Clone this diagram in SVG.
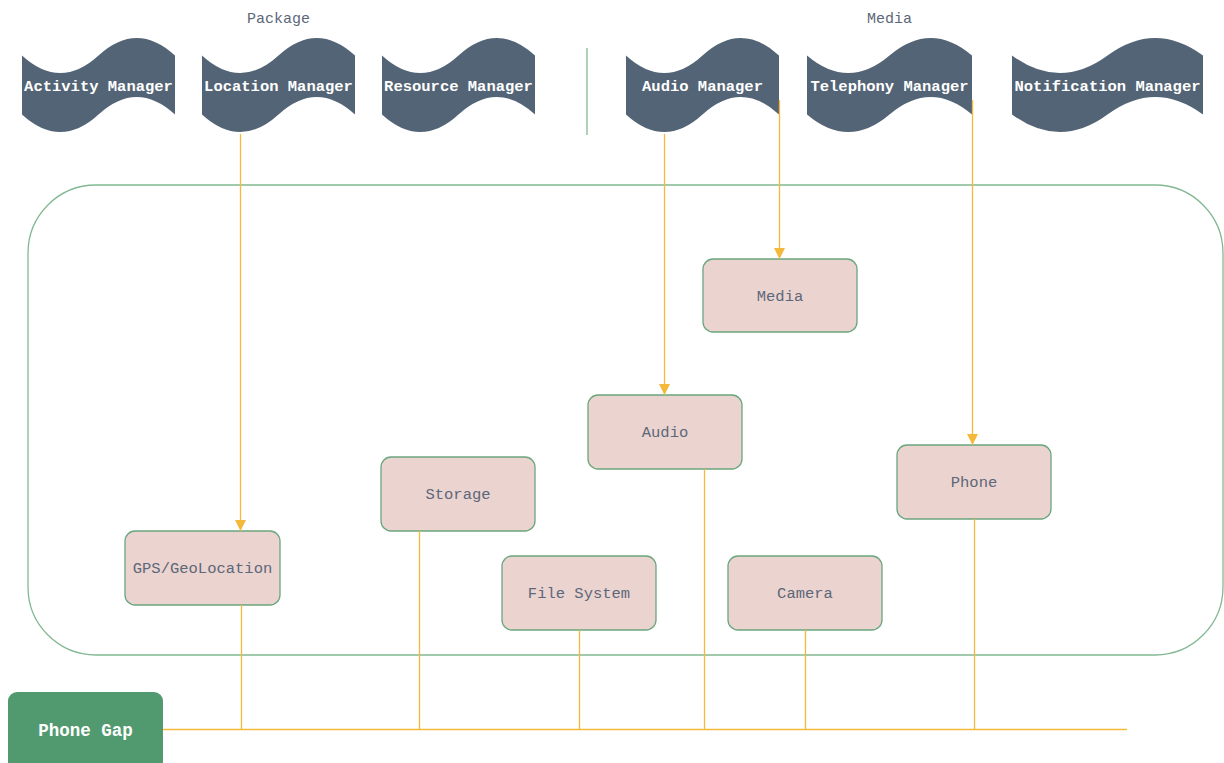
<svg xmlns="http://www.w3.org/2000/svg" width="1224" height="763" viewBox="0 0 1224 763">
  <style>
    .tape { fill: #536476; }
    .tape-label { font-family: "Liberation Mono", "Courier New", monospace; font-size: 15.5px; font-weight: bold; fill: #ffffff; text-anchor: middle; }
    .group-label { font-family: "Liberation Mono", "Courier New", monospace; font-size: 15px; fill: #5c6779; text-anchor: middle; }
    .box { fill: #ebd3cf; stroke: #6aa67e; stroke-width: 1.3; }
    .box-label { font-family: "Liberation Mono", "Courier New", monospace; font-size: 15.5px; fill: #5c6779; text-anchor: middle; }
    .link { fill: none; stroke: #f4b93a; stroke-width: 1.3; }
    .arrow { marker-end: url(#arrowhead); }
  </style>
  <defs>
    <marker id="arrowhead" markerUnits="userSpaceOnUse" markerWidth="12" markerHeight="12" refX="11" refY="6" orient="auto">
      <path d="M0,0.5 L11,6 L0,11.5 Z" fill="#f4b93a"/>
    </marker>
  </defs>

  <rect width="1224" height="763" fill="#ffffff"/>

  <!-- section titles -->
  <text class="group-label" x="278.5" y="23">Package</text>
  <text class="group-label" x="889.5" y="23">Media</text>

  <!-- divider between the two manager sets -->
  <line x1="587" y1="48" x2="587" y2="135" stroke="#82b891" stroke-width="1.3"/>

  <!-- container -->
  <rect id="container" x="28" y="185" width="1195" height="470" rx="68" ry="68" fill="none" stroke="#82b891" stroke-width="1.3"/>

  <!-- managers -->
  <g id="activity-manager">
    <path class="tape" d="M22,55.5 Q60.25,90.6 98.5,55.5 Q136.75,20.4 175,55.5 L175,114.5 Q136.75,79.4 98.5,114.5 Q60.25,149.6 22,114.5 Z"/>
    <text class="tape-label" x="98.5" y="91">Activity Manager</text>
  </g>
  <g id="location-manager">
    <path class="tape" d="M202,55.5 Q240.25,90.6 278.5,55.5 Q316.75,20.4 355,55.5 L355,114.5 Q316.75,79.4 278.5,114.5 Q240.25,149.6 202,114.5 Z"/>
    <text class="tape-label" x="278.5" y="91">Location Manager</text>
  </g>
  <g id="resource-manager">
    <path class="tape" d="M382,55.5 Q420.25,90.6 458.5,55.5 Q496.75,20.4 535,55.5 L535,114.5 Q496.75,79.4 458.5,114.5 Q420.25,149.6 382,114.5 Z"/>
    <text class="tape-label" x="458.5" y="91">Resource Manager</text>
  </g>
  <g id="audio-manager">
    <path class="tape" d="M626,55.5 Q664.25,90.6 702.5,55.5 Q740.75,20.4 779,55.5 L779,114.5 Q740.75,79.4 702.5,114.5 Q664.25,149.6 626,114.5 Z"/>
    <text class="tape-label" x="702.5" y="91">Audio Manager</text>
  </g>
  <g id="telephony-manager">
    <path class="tape" d="M807,55.5 Q848.25,90.6 889.5,55.5 Q930.75,20.4 972,55.5 L972,114.5 Q930.75,79.4 889.5,114.5 Q848.25,149.6 807,114.5 Z"/>
    <text class="tape-label" x="889.5" y="91">Telephony Manager</text>
  </g>
  <g id="notification-manager">
    <path class="tape" d="M1012,55.5 Q1059.75,90.6 1107.5,55.5 Q1155.25,20.4 1203,55.5 L1203,114.5 Q1155.25,79.4 1107.5,114.5 Q1059.75,149.6 1012,114.5 Z"/>
    <text class="tape-label" x="1107.5" y="91">Notification Manager</text>
  </g>

  <!-- plugins -->
  <g id="media">
    <rect class="box" x="703" y="259" width="154" height="73" rx="10"/>
    <text class="box-label" x="780" y="300.5">Media</text>
  </g>
  <g id="audio">
    <rect class="box" x="588" y="395" width="154" height="74" rx="10"/>
    <text class="box-label" x="665" y="436.5">Audio</text>
  </g>
  <g id="phone">
    <rect class="box" x="897" y="445" width="154" height="74" rx="10"/>
    <text class="box-label" x="974" y="486.5">Phone</text>
  </g>
  <g id="storage">
    <rect class="box" x="381" y="457" width="154" height="74" rx="10"/>
    <text class="box-label" x="458" y="498.5">Storage</text>
  </g>
  <g id="gps-geolocation">
    <rect class="box" x="125" y="531" width="155" height="74" rx="10"/>
    <text class="box-label" x="202.5" y="572.5">GPS/GeoLocation</text>
  </g>
  <g id="file-system">
    <rect class="box" x="502" y="556" width="154" height="74" rx="10"/>
    <text class="box-label" x="579" y="597.5">File System</text>
  </g>
  <g id="camera">
    <rect class="box" x="728" y="556" width="154" height="74" rx="10"/>
    <text class="box-label" x="805" y="597.5">Camera</text>
  </g>

  <g id="phone-gap">
    <rect x="8" y="692" width="155" height="80" rx="9" fill="#519a6f"/>
    <text x="85.5" y="735.5" font-family="Liberation Mono, Courier New, monospace" font-size="17.5px" font-weight="bold" fill="#ffffff" text-anchor="middle">Phone Gap</text>
  </g>

  <!-- connectors -->
  <g id="connectors">
    <line class="link arrow" x1="240.5" y1="134" x2="240.5" y2="531"/>
    <line class="link arrow" x1="664.5" y1="134" x2="664.5" y2="395"/>
    <line class="link arrow" x1="779.5" y1="100" x2="779.5" y2="259"/>
    <line class="link arrow" x1="972.5" y1="100" x2="972.5" y2="445"/>

    <line class="link" x1="163" y1="729.5" x2="1127" y2="729.5"/>
    <line class="link" x1="241.5" y1="605" x2="241.5" y2="729.5"/>
    <line class="link" x1="419.5" y1="531" x2="419.5" y2="729.5"/>
    <line class="link" x1="579.5" y1="630" x2="579.5" y2="729.5"/>
    <line class="link" x1="704.5" y1="469" x2="704.5" y2="729.5"/>
    <line class="link" x1="805.5" y1="630" x2="805.5" y2="729.5"/>
    <line class="link" x1="974.5" y1="519" x2="974.5" y2="729.5"/>
  </g>
</svg>
